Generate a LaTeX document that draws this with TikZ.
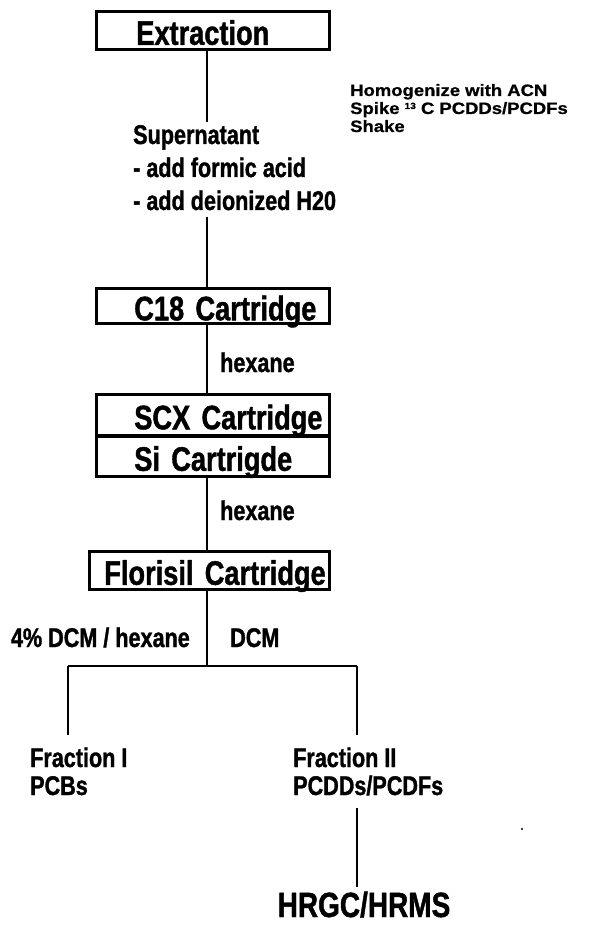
\documentclass[tikz,border=0pt]{standalone}
\usepackage{fontspec}
\setmainfont{Liberation Sans}
\newfontfamily\condfont{Liberation Sans}[FakeStretch=0.8, FakeBold=1.2]
\newfontfamily\notefont{Liberation Sans}[FakeStretch=1.12, FakeBold=0.8]
\begin{document}
\begin{tikzpicture}[x=1pt,y=-1pt,
  box/.style={draw, line width=2.6pt, anchor=north west, inner xsep=0pt, inner ysep=0pt,
    text height=29pt, text depth=0pt, align=left,
    font=\condfont\bfseries\fontsize{34}{34}\selectfont},
  lbl/.style={inner sep=0pt, anchor=base west, font=\condfont\bfseries\fontsize{27}{31}\selectfont},
  big/.style={inner sep=0pt, anchor=base, font=\condfont\bfseries\fontsize{35}{35}\selectfont},
  note/.style={inner sep=0pt, anchor=base west, font=\notefont\bfseries\fontsize{16.5}{16.5}\selectfont},
  conn/.style={line width=2.6pt}]
\useasboundingbox (0,0) rectangle (607,925);
\fill[white] (0,0) rectangle (607,925);

% boxes
\node[box, minimum width=233pt, minimum height=38pt, text width=233pt] (ext) at (95,10) {\hspace*{40pt}Extraction};
\node[box, minimum width=233pt, minimum height=35pt, text width=233pt] (c18) at (95,287) {\hspace*{38pt}C18 Cartridge};
\node[box, minimum width=233pt, minimum height=41pt, text width=233pt] (scx) at (95,393) {\hspace*{38pt}SCX Cartridge};
\node[box, minimum width=233pt, minimum height=40pt, text width=233pt] (si) at (95,435) {\hspace*{38pt}Si Cartrigde};
\node[box, minimum width=240pt, minimum height=38pt, text width=240pt] (flo) at (88,550) {\hspace*{15pt}Florisil Cartridge};

% side note
\node[note] (n1) at (350,96) {Homogenize with ACN};
\node[note] (n2) at (350,114) {Spike {\fontsize{9}{9}\selectfont\raisebox{5pt}{13}} C PCDDs/PCDFs};
\node[note] (n3) at (350,132) {Shake};

% supernatant text
\node[lbl] (s1) at (133,144) {Supernatant};
\node[lbl] (s2) at (133,177) {- add formic acid};
\node[lbl] (s3) at (133,210) {- add deionized H20};

% solvent labels
\node[lbl] (hx1) at (220,372) {hexane};
\node[lbl] (hx2) at (220,520) {hexane};
\node[lbl, anchor=base east] (dcmh) at (190,647) {4\% DCM / hexane};
\node[lbl] (dcm) at (230,647) {DCM};

% fractions
\node[lbl] (f1a) at (30,767) {Fraction I};
\node[lbl] (f1b) at (30,795) {PCBs};
\node[lbl] (f2a) at (293,767) {Fraction II};
\node[lbl] (f2b) at (293,795) {PCDDs/PCDFs};
\node[big] (hr) at (364,917) {HRGC/HRMS};

% connector coordinates
\coordinate (a1) at (207,122);
\coordinate (a2) at (207,217);
\coordinate (sp) at (207,666);
\coordinate (L) at (68,666);
\coordinate (R) at (357,666);
\coordinate (Le) at (68,735);
\coordinate (Re) at (357,735);
\coordinate (h1) at (357,808);
\coordinate (h2) at (357,887);

\draw[conn] (ext.south -| a1) -- (a1);
\draw[conn] (a2) -- (c18.north -| a2);
\draw[conn] (c18.south -| a2) -- (scx.north -| a2);
\draw[conn] (si.south -| a2) -- (flo.north -| a2);
\draw[conn] (flo.south -| a2) -- (sp);
\draw[conn] (L) -- (R);
\draw[conn] (L) -- (Le);
\draw[conn] (R) -- (Re);
\draw[conn] (h1) -- (h2);

% speck
\fill (522,829) circle (1.1);
\end{tikzpicture}
\end{document}
